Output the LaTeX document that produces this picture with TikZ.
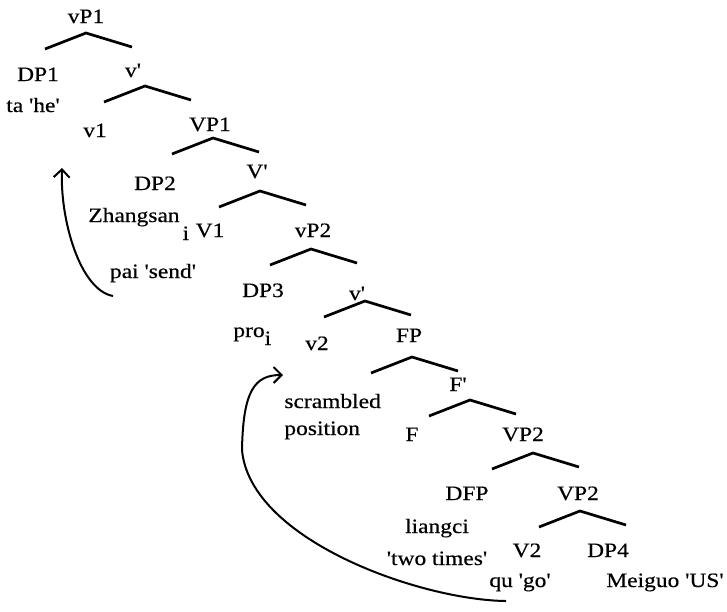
\documentclass[tikz,border=0pt]{standalone}
\usepackage{fontspec}
\newfontfamily\treefont{Liberation Serif}[FakeStretch=1.15,FakeBold=0.4]
\usetikzlibrary{arrows.meta}

\begin{document}
\begin{tikzpicture}[x=0.5pt,y=-0.5pt,lab/.style={inner sep=0pt,anchor=base,font=\treefont\fontsize{10.2}{13.5}\selectfont},branch/.style={line width=1.35pt},mv/.style={line width=1pt,-{Straight Barb[length=4pt,width=8pt]}}]
\useasboundingbox (0,0) rectangle (727,611);
\node[lab] (vP1) at (86,23) {vP1};
\node[lab] (dp1) at (38,81) {DP1};
\node[lab] (ta) at (33,112) {ta 'he'};
\node[lab] (vbar1) at (133,77) {v'};
\node[lab] (v1) at (95,137) {v1};
\node[lab] (VP1) at (210,131) {VP1};
\node[lab] (dp2) at (155,190) {DP2};
\node[lab] (Vbar) at (257,178) {V'};
\node[lab,anchor=base west] (zhang) at (88,222) {Zhangsan\kern1.5pt\raisebox{-9pt}{i}};
\node[lab] (V1) at (210,237) {V1};
\node[lab] (vP2) at (313,237) {vP2};
\node[lab] (pai) at (153,278) {pai 'send'};
\node[lab] (dp3) at (263,297) {DP3};
\node[lab,anchor=base west] (pro) at (233,337) {pro\raisebox{-4pt}{i}};
\node[lab] (vbar2) at (357,300) {v'};
\node[lab] (v2) at (317,350) {v2};
\node[lab] (FP) at (409,342) {FP};
\node[lab] (Fbar) at (458,391) {F'};
\node[lab,anchor=base west,align=left] (scr) at (284,435) {scrambled\\position};
\node[lab] (F) at (412,441) {F};
\node[lab] (VP2a) at (523,441) {VP2};
\node[lab] (dfp) at (467,500) {DFP};
\node[lab] (VP2b) at (578,500) {VP2};
\node[lab,align=center,font=\treefont\fontsize{10.2}{16}\selectfont] (liang) at (437,565) {liangci\\'two times'};
\node[lab] (V2) at (527,557) {V2};
\node[lab] (dp4) at (608,557) {DP4};
\node[lab] (qu) at (520,587) {qu 'go'};
\node[lab] (mei) at (665,587) {Meiguo 'US'};
% tops of the branches
\coordinate (vP1-t) at (86,33);
\coordinate (vbar1-t) at (145,86);
\coordinate (VP1-t) at (213,138);
\coordinate (Vbar-t) at (260,191);
\coordinate (vP2-t) at (311,249);
\coordinate (vbar2-t) at (365,301);
\coordinate (FP-t) at (412,357);
\coordinate (Fbar-t) at (470,400);
\coordinate (VP2a-t) at (533,453);
\coordinate (VP2b-t) at (580,511);
\foreach \t in {vP1-t,vbar1-t,VP1-t,Vbar-t,vP2-t,vbar2-t,FP-t,Fbar-t,VP2a-t,VP2b-t}{\draw[branch] (\t) ++(-41,16) -- (\t) -- ++(46,14);}
% movement arrows
\coordinate (V1-s) at (113,296);
\coordinate (v1-e) at (62,168);
\coordinate (dfp-s) at (506,601);
\coordinate (scr-e) at (283,375);
\draw[mv] (V1-s) .. controls (80,290) and (60,220) .. (v1-e);
\draw[mv] (dfp-s) .. controls (420,600) and (250,540) .. (242,450) .. controls (243,390) and (255,375) .. (scr-e);
\end{tikzpicture}
\end{document}
